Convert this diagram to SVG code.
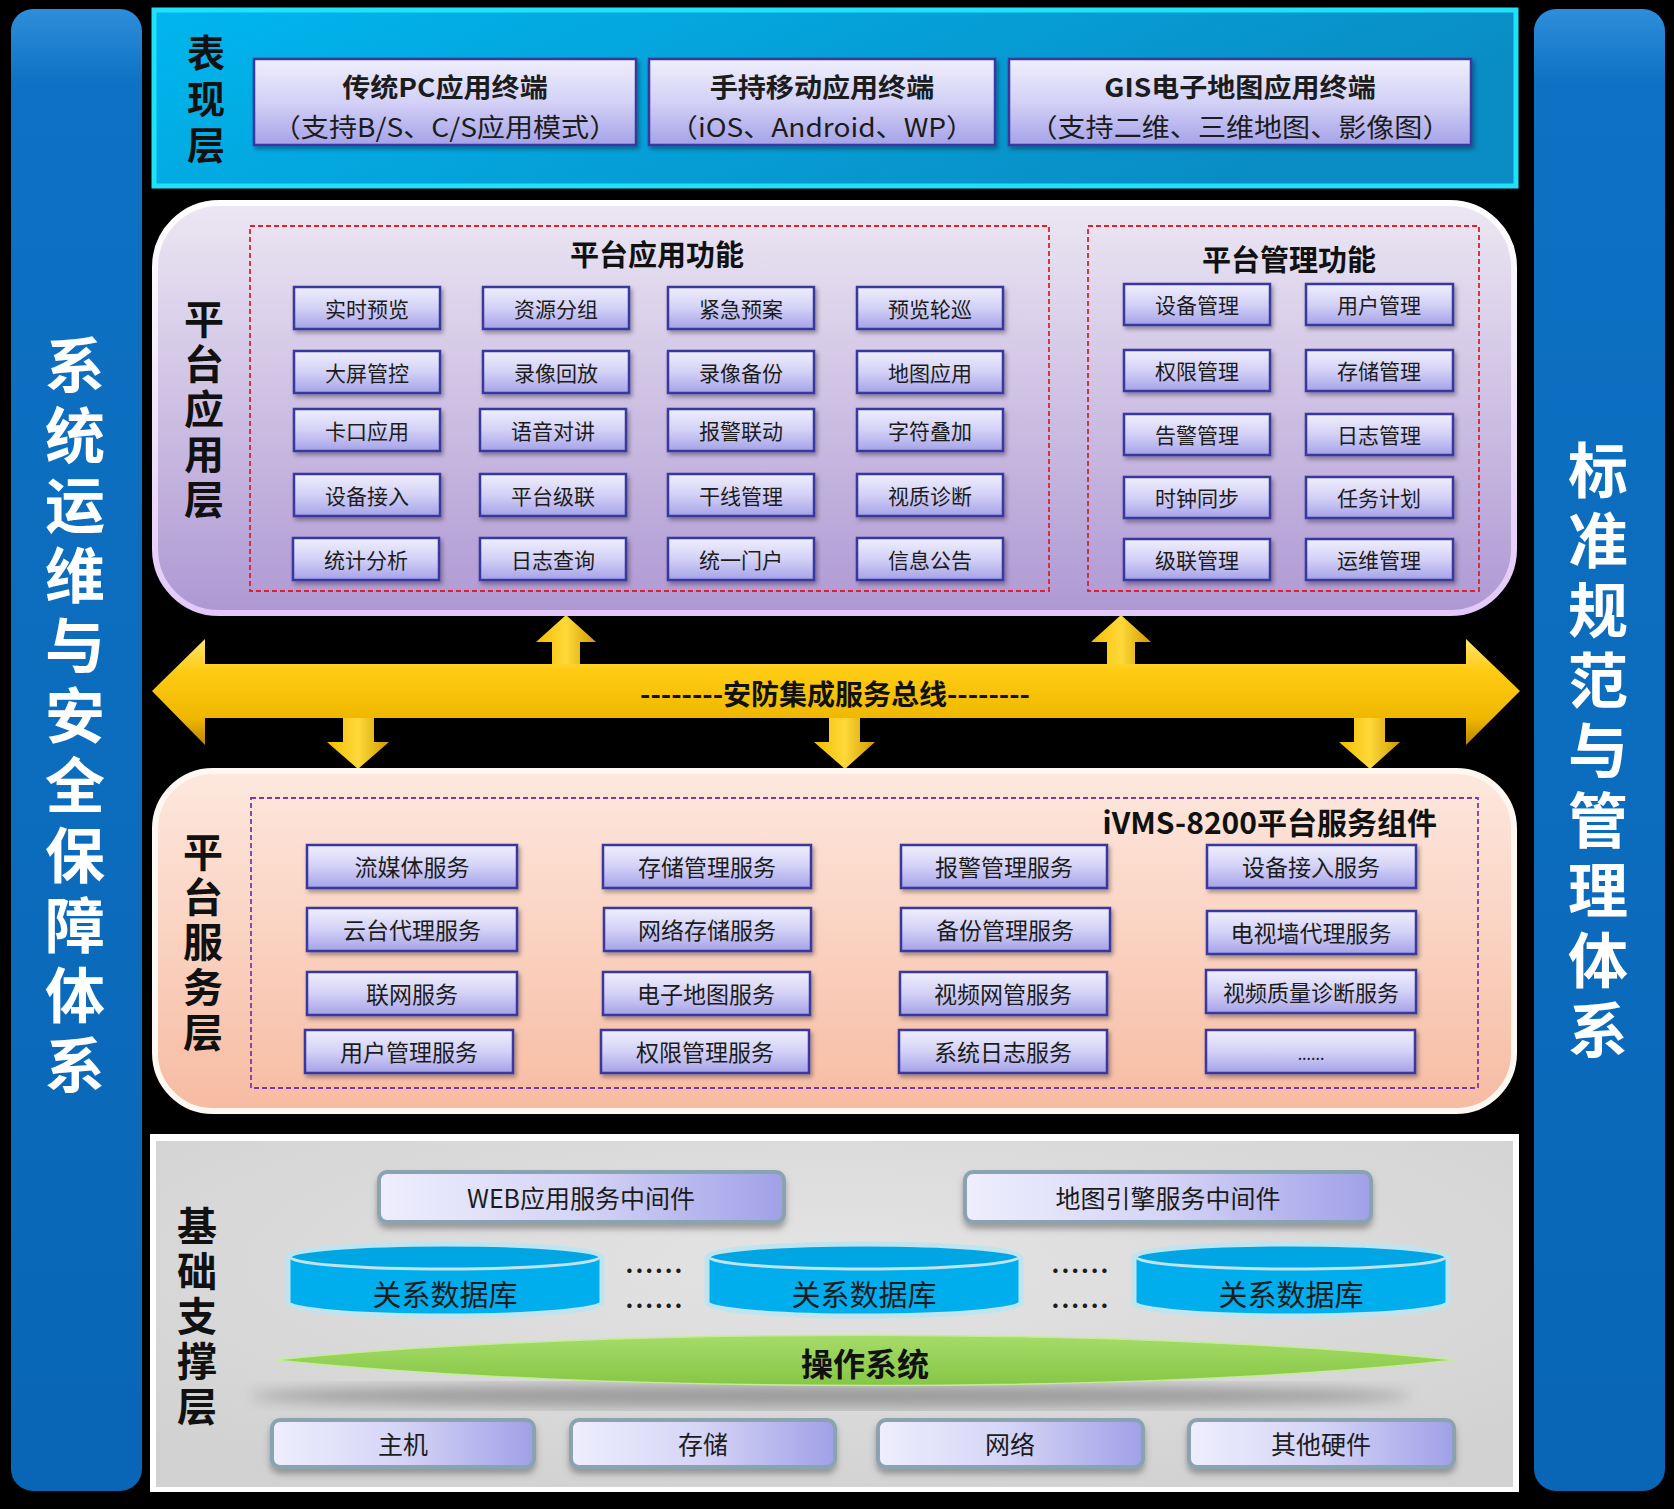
<svg xmlns="http://www.w3.org/2000/svg" width="1674" height="1509" viewBox="0 0 1674 1509">
<defs>
<linearGradient id="gBar" x1="0" y1="0" x2="0" y2="1"><stop offset="0" stop-color="#2e8edb"/><stop offset="0.05" stop-color="#0e71c3"/><stop offset="1" stop-color="#0966b6"/></linearGradient>
<linearGradient id="gTop" x1="0" y1="0" x2="1" y2="0.3"><stop offset="0" stop-color="#00b6ee"/><stop offset="1" stop-color="#0a8cc4"/></linearGradient>
<linearGradient id="gBtn" x1="0" y1="0" x2="0" y2="1"><stop offset="0" stop-color="#f0effc"/><stop offset="0.5" stop-color="#d3d1f6"/><stop offset="1" stop-color="#a5a2e8"/></linearGradient>
<linearGradient id="gApp" x1="0" y1="0" x2="0" y2="1"><stop offset="0" stop-color="#ece7f3"/><stop offset="1" stop-color="#ae98d3"/></linearGradient>
<linearGradient id="gAppS" x1="0" y1="0" x2="0" y2="1"><stop offset="0" stop-color="#ffffff"/><stop offset="1" stop-color="#e2c8f8"/></linearGradient>
<linearGradient id="gSvc" x1="0" y1="0" x2="0" y2="1"><stop offset="0" stop-color="#fde8de"/><stop offset="1" stop-color="#f7bba2"/></linearGradient>
<linearGradient id="gMid" x1="0" y1="0" x2="1" y2="0"><stop offset="0" stop-color="#eeeefd"/><stop offset="0.5" stop-color="#d4d4f6"/><stop offset="1" stop-color="#a0a0e8"/></linearGradient>
<linearGradient id="gBus" x1="0" y1="0" x2="0" y2="1"><stop offset="0" stop-color="#ffe46e"/><stop offset="0.3" stop-color="#ffcc14"/><stop offset="0.75" stop-color="#efb700"/><stop offset="1" stop-color="#b98600"/></linearGradient>
<linearGradient id="gArr" x1="0" y1="0" x2="1" y2="0"><stop offset="0" stop-color="#f2bd00"/><stop offset="0.5" stop-color="#ffd93a"/><stop offset="1" stop-color="#cf9a00"/></linearGradient>
<linearGradient id="gOS" x1="0" y1="0" x2="0" y2="1"><stop offset="0" stop-color="#a6dc68"/><stop offset="1" stop-color="#86c646"/></linearGradient>
<radialGradient id="gFound" cx="0.5" cy="0.35" r="0.7"><stop offset="0" stop-color="#e4e4e4"/><stop offset="1" stop-color="#d2d2d2"/></radialGradient>
<filter id="sh" x="-10%" y="-20%" width="120%" height="160%"><feDropShadow dx="2" dy="3" stdDeviation="2" flood-color="#000" flood-opacity="0.35"/></filter>
<filter id="sh2" x="-10%" y="-20%" width="120%" height="160%"><feDropShadow dx="0" dy="5" stdDeviation="3" flood-color="#555" flood-opacity="0.5"/></filter>
<filter id="blur"><feGaussianBlur stdDeviation="7"/></filter>
</defs>
<style>
text{font-family:"Noto Sans CJK SC","Noto Sans",sans-serif;fill:#1c1c1c;text-anchor:middle;dominant-baseline:central}
.vt{writing-mode:vertical-rl;text-orientation:upright}
.bar{fill:url(#gBar)}
.barT{font-size:60px;font-weight:700;fill:#ffffff;letter-spacing:10px}
.lay{font-size:40px;font-weight:700;fill:#111;letter-spacing:5px}
.btn{fill:url(#gBtn);stroke:#37379e;stroke-width:2.5;filter:url(#sh)}
.bt{font-size:21px}
.st{font-size:23px}
.ttl{font-size:29px;font-weight:700;fill:#111}
.red{fill:none;stroke:#e0202c;stroke-width:1.8;stroke-dasharray:5 3}
.pur{fill:none;stroke:#7a3aa8;stroke-width:1.8;stroke-dasharray:5 3}
.mid{fill:url(#gMid);stroke:#8ba3b0;stroke-width:4;filter:url(#sh2)}
.mt{font-size:25px}
.db{fill:#00aeee;stroke:#c0e4ee;stroke-width:5}
.dbt{font-size:29px}
.dots{font-size:24px;font-weight:700;letter-spacing:2px}
.arr{fill:url(#gArr)}
.term{font-size:26px}
</style>
<rect x="0" y="0" width="1674" height="1509" fill="#000"/>

<g id="left-bar">
<rect class="bar" x="11" y="9" width="131" height="1482" rx="22"/>
<text class="barT vt" x="75" y="720">系统运维与安全保障体系</text>
</g>
<g id="right-bar">
<rect class="bar" x="1534" y="9" width="131" height="1482" rx="22"/>
<text class="barT vt" x="1598" y="755">标准规范与管理体系</text>
</g>

<g id="presentation-layer">
<rect x="154" y="10" width="1362" height="176" fill="url(#gTop)" stroke="#1fe2fa" stroke-width="5"/>
<text class="lay vt" x="206" y="103" style="font-size:38px;letter-spacing:8px">表现层</text>
</g>
<g id="pc-terminal">
<rect class="btn" x="254" y="59" width="382" height="86"/>
<g transform="translate(445,0) scale(1.08,1) translate(-445,0)">
<text class="term" x="445" y="86" font-weight="700">传统PC应用终端</text>
<text class="term" x="445" y="126">（支持B/S、C/S应用模式）</text>
</g>
</g>
<g id="mobile-terminal">
<rect class="btn" x="649" y="59" width="346" height="86"/>
<g transform="translate(822,0) scale(1.08,1) translate(-822,0)">
<text class="term" x="822" y="86" font-weight="700">手持移动应用终端</text>
<text class="term" x="822" y="126">（iOS、Android、WP）</text>
</g>
</g>
<g id="gis-terminal">
<rect class="btn" x="1009" y="59" width="462" height="86"/>
<g transform="translate(1240,0) scale(1.08,1) translate(-1240,0)">
<text class="term" x="1240" y="86" font-weight="700">GIS电子地图应用终端</text>
<text class="term" x="1240" y="126">（支持二维、三维地图、影像图）</text>
</g>
</g>

<g id="app-layer">
<rect x="155" y="203" width="1359" height="410" rx="64" fill="url(#gApp)" stroke="url(#gAppS)" stroke-width="6"/>
<text class="lay vt" x="204" y="411">平台应用层</text>
</g>
<g id="app-functions">
<rect class="red" x="250" y="226" width="799" height="365"/>
<text class="ttl" x="657" y="253">平台应用功能</text>
</g>
<g id="app-buttons">
<rect class="btn" x="294" y="287" width="146" height="42"/><text class="bt" x="367" y="308">实时预览</text>
<rect class="btn" x="483" y="287" width="146" height="42"/><text class="bt" x="556" y="308">资源分组</text>
<rect class="btn" x="668" y="287" width="146" height="42"/><text class="bt" x="741" y="308">紧急预案</text>
<rect class="btn" x="857" y="287" width="146" height="42"/><text class="bt" x="930" y="308">预览轮巡</text>
<rect class="btn" x="294" y="351" width="146" height="42"/><text class="bt" x="367" y="372">大屏管控</text>
<rect class="btn" x="483" y="351" width="146" height="42"/><text class="bt" x="556" y="372">录像回放</text>
<rect class="btn" x="668" y="351" width="146" height="42"/><text class="bt" x="741" y="372">录像备份</text>
<rect class="btn" x="857" y="351" width="146" height="42"/><text class="bt" x="930" y="372">地图应用</text>
<rect class="btn" x="294" y="409" width="146" height="42"/><text class="bt" x="367" y="430">卡口应用</text>
<rect class="btn" x="480" y="409" width="146" height="42"/><text class="bt" x="553" y="430">语音对讲</text>
<rect class="btn" x="668" y="409" width="146" height="42"/><text class="bt" x="741" y="430">报警联动</text>
<rect class="btn" x="857" y="409" width="146" height="42"/><text class="bt" x="930" y="430">字符叠加</text>
<rect class="btn" x="294" y="474" width="146" height="42"/><text class="bt" x="367" y="495">设备接入</text>
<rect class="btn" x="480" y="474" width="146" height="42"/><text class="bt" x="553" y="495">平台级联</text>
<rect class="btn" x="668" y="474" width="146" height="42"/><text class="bt" x="741" y="495">干线管理</text>
<rect class="btn" x="857" y="474" width="146" height="42"/><text class="bt" x="930" y="495">视质诊断</text>
<rect class="btn" x="293" y="538" width="146" height="42"/><text class="bt" x="366" y="559">统计分析</text>
<rect class="btn" x="480" y="538" width="146" height="42"/><text class="bt" x="553" y="559">日志查询</text>
<rect class="btn" x="668" y="538" width="146" height="42"/><text class="bt" x="741" y="559">统一门户</text>
<rect class="btn" x="857" y="538" width="146" height="42"/><text class="bt" x="930" y="559">信息公告</text>
</g>
<g id="mgmt-functions">
<rect class="red" x="1088" y="226" width="391" height="365"/>
<text class="ttl" x="1289" y="258">平台管理功能</text>
</g>
<g id="mgmt-buttons">
<rect class="btn" x="1124" y="284" width="146" height="41"/><text class="bt" x="1197" y="304">设备管理</text>
<rect class="btn" x="1306" y="284" width="147" height="41"/><text class="bt" x="1379" y="304">用户管理</text>
<rect class="btn" x="1124" y="350" width="146" height="41"/><text class="bt" x="1197" y="370">权限管理</text>
<rect class="btn" x="1306" y="350" width="147" height="41"/><text class="bt" x="1379" y="370">存储管理</text>
<rect class="btn" x="1124" y="414" width="146" height="41"/><text class="bt" x="1197" y="434">告警管理</text>
<rect class="btn" x="1306" y="414" width="147" height="41"/><text class="bt" x="1379" y="434">日志管理</text>
<rect class="btn" x="1124" y="477" width="146" height="41"/><text class="bt" x="1197" y="497">时钟同步</text>
<rect class="btn" x="1306" y="477" width="147" height="41"/><text class="bt" x="1379" y="497">任务计划</text>
<rect class="btn" x="1124" y="539" width="146" height="41"/><text class="bt" x="1197" y="559">级联管理</text>
<rect class="btn" x="1306" y="539" width="147" height="41"/><text class="bt" x="1379" y="559">运维管理</text>
</g>

<g id="connectors">
<polygon class="arr" points="566,615 596,642 580,642 580,665 552,665 552,642 536,642"/>
<polygon class="arr" points="1121,615 1151,642 1135,642 1135,665 1107,665 1107,642 1091,642"/>
<polygon class="arr" points="343,717 374,717 374,742 389,742 358,769 327,742 343,742"/>
<polygon class="arr" points="829,717 860,717 860,742 875,742 845,769 814,742 829,742"/>
<polygon class="arr" points="1354,717 1385,717 1385,742 1400,742 1370,769 1339,742 1354,742"/>
</g>
<g id="service-bus">
<polygon points="152,691 205,639 205,664 1466,664 1466,639 1520,691 1466,745 1466,718 205,718 205,745" fill="url(#gBus)"/>
<text x="835" y="693" style="font-size:28px;font-weight:700;fill:#111">--------安防集成服务总线--------</text>
</g>

<g id="service-layer">
<rect x="155" y="771" width="1359" height="340" rx="58" fill="url(#gSvc)" stroke="#fff8f2" stroke-width="6"/>
<text class="lay vt" x="203" y="944">平台服务层</text>
</g>
<g id="service-components">
<rect class="pur" x="251" y="798" width="1227" height="290"/>
<text class="ttl" x="1437" y="821" style="font-size:30px;text-anchor:end">iVMS-8200平台服务组件</text>
</g>
<g id="service-buttons">
<rect class="btn" x="307" y="845" width="210" height="43"/><text class="st" x="412" y="866">流媒体服务</text>
<rect class="btn" x="603" y="845" width="208" height="43"/><text class="st" x="707" y="866">存储管理服务</text>
<rect class="btn" x="901" y="845" width="206" height="43"/><text class="st" x="1004" y="866">报警管理服务</text>
<rect class="btn" x="1207" y="845" width="209" height="43"/><text class="st" x="1311" y="866">设备接入服务</text>
<rect class="btn" x="307" y="908" width="210" height="43"/><text class="st" x="412" y="929">云台代理服务</text>
<rect class="btn" x="604" y="908" width="207" height="43"/><text class="st" x="707" y="929">网络存储服务</text>
<rect class="btn" x="901" y="908" width="209" height="43"/><text class="st" x="1005" y="929">备份管理服务</text>
<rect class="btn" x="1207" y="911" width="209" height="43"/><text class="st" x="1311" y="932">电视墙代理服务</text>
<rect class="btn" x="307" y="972" width="210" height="43"/><text class="st" x="412" y="993">联网服务</text>
<rect class="btn" x="603" y="972" width="207" height="43"/><text class="st" x="706" y="993">电子地图服务</text>
<rect class="btn" x="900" y="972" width="207" height="43"/><text class="st" x="1003" y="993">视频网管服务</text>
<rect class="btn" x="1206" y="970" width="210" height="43"/><text class="st" x="1311" y="991" style="font-size:22px">视频质量诊断服务</text>
<rect class="btn" x="305" y="1030" width="208" height="43"/><text class="st" x="409" y="1051">用户管理服务</text>
<rect class="btn" x="601" y="1030" width="208" height="43"/><text class="st" x="705" y="1051">权限管理服务</text>
<rect class="btn" x="899" y="1030" width="208" height="43"/><text class="st" x="1003" y="1051">系统日志服务</text>
<rect class="btn" x="1206" y="1030" width="209" height="43"/><text x="1311" y="1053" style="font-size:16px">......</text>
</g>

<g id="foundation-layer">
<rect x="150" y="1134" width="1369" height="358" fill="#ffffff"/>
<rect x="156" y="1141" width="1357" height="346" fill="url(#gFound)"/>
<text class="lay vt" x="197" y="1318">基础支撑层</text>
</g>
<g id="web-middleware">
<rect class="mid" x="379" y="1172" width="405" height="50" rx="8"/>
<text class="mt" x="581" y="1197">WEB应用服务中间件</text>
</g>
<g id="map-middleware">
<rect class="mid" x="965" y="1172" width="406" height="50" rx="8"/>
<text class="mt" x="1168" y="1197">地图引擎服务中间件</text>
</g>
<g id="db1">
<path class="db" d="M288,1257 A157,13 0 0 1 602,1257 L602,1303 A157,13 0 0 1 288,1303 Z"/>
<ellipse cx="445" cy="1257" rx="155" ry="12" fill="#00a6e4" stroke="#c0e4ee" stroke-width="3"/>
<text class="dbt" x="445" y="1293">关系数据库</text>
</g>
<g id="db2">
<path class="db" d="M707,1257 A157,13 0 0 1 1021,1257 L1021,1303 A157,13 0 0 1 707,1303 Z"/>
<ellipse cx="864" cy="1257" rx="155" ry="12" fill="#00a6e4" stroke="#c0e4ee" stroke-width="3"/>
<text class="dbt" x="864" y="1293">关系数据库</text>
</g>
<g id="db3">
<path class="db" d="M1134,1257 A157,13 0 0 1 1448,1257 L1448,1303 A157,13 0 0 1 1134,1303 Z"/>
<ellipse cx="1291" cy="1257" rx="155" ry="12" fill="#00a6e4" stroke="#c0e4ee" stroke-width="3"/>
<text class="dbt" x="1291" y="1293">关系数据库</text>
</g>
<g id="db-dots">
<text class="dots" x="655" y="1262">......</text>
<text class="dots" x="655" y="1297">......</text>
<text class="dots" x="1081" y="1262">......</text>
<text class="dots" x="1081" y="1297">......</text>
</g>
<g id="operating-system">
<ellipse cx="830" cy="1396" rx="580" ry="12" fill="#6a6a6a" opacity="0.55" filter="url(#blur)"/>
<path d="M275,1360 C600,1326 1150,1328 1455,1360 C1150,1394 600,1394 275,1360 Z" fill="url(#gOS)" stroke="#c4ec98" stroke-width="1.5"/>
<text x="865" y="1362" style="font-size:32px;font-weight:700;fill:#111">操作系统</text>
</g>
<g id="host"><rect class="mid" x="272" y="1420" width="262" height="47" rx="8"/><text class="mt" x="403" y="1443">主机</text></g>
<g id="storage"><rect class="mid" x="571" y="1420" width="264" height="47" rx="8"/><text class="mt" x="703" y="1443">存储</text></g>
<g id="network"><rect class="mid" x="878" y="1420" width="265" height="47" rx="8"/><text class="mt" x="1010" y="1443">网络</text></g>
<g id="other-hw"><rect class="mid" x="1189" y="1420" width="265" height="47" rx="8"/><text class="mt" x="1321" y="1443">其他硬件</text></g>
</svg>
